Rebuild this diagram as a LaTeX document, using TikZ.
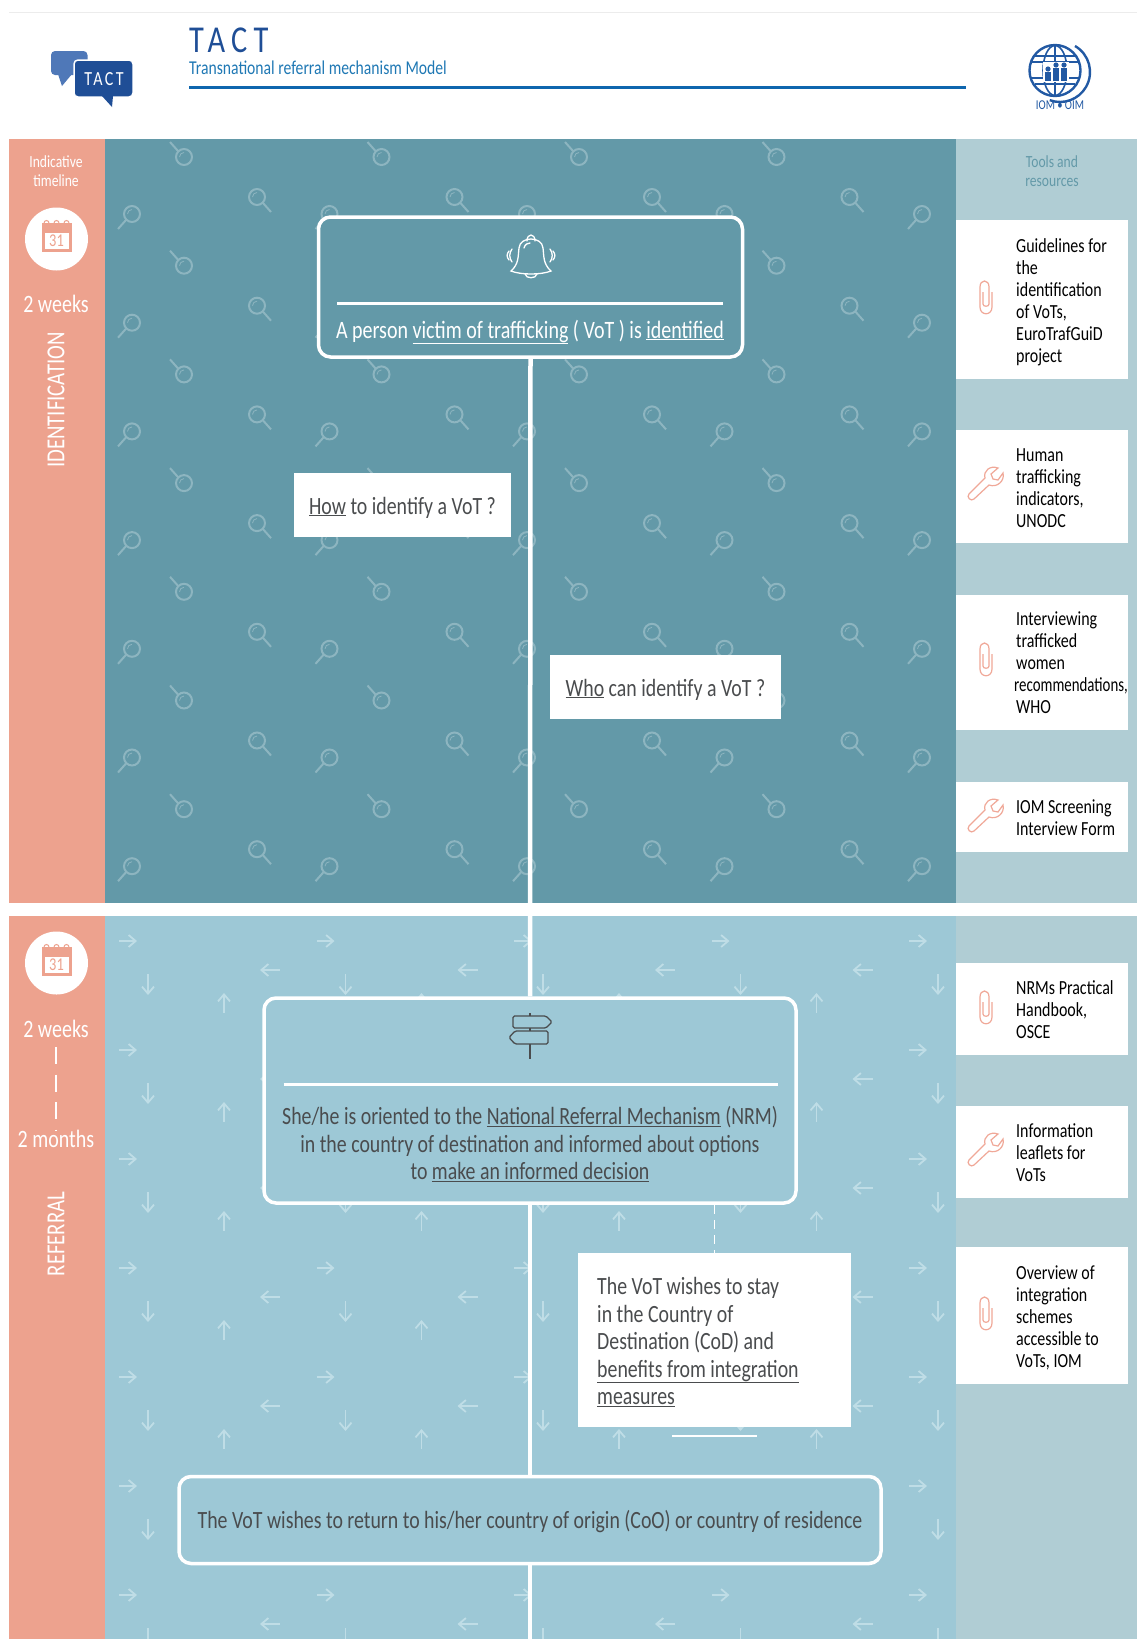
\documentclass[tikz,border=0pt]{standalone}
\usepackage{fontspec}
\setmainfont[FakeStretch=0.8]{Carlito}
\usetikzlibrary{arrows.meta}

\definecolor{salmon}{HTML}{EDA28E}
\definecolor{tealpanel}{HTML}{6399A8}
\definecolor{toolpanel}{HTML}{B0CDD4}
\definecolor{bluepanel}{HTML}{9DC8D6}
\definecolor{lensgrey}{HTML}{8DB5C0}
\definecolor{arrowpale}{HTML}{BFDDE6}
\definecolor{darktext}{HTML}{4A4C4E}
\definecolor{tactblue}{HTML}{1F4E96}
\definecolor{subblue}{HTML}{1F78B4}
\definecolor{rulblue}{HTML}{0F66AE}
\definecolor{bubbleblue}{HTML}{4F78B8}
\definecolor{iomblue}{HTML}{2259A3}
\definecolor{toolorange}{HTML}{F0A898}

\tikzset{
    panelbox/.style={draw=white, line width=3.5pt, rounded corners=12pt, inner sep=0pt},
    whitebox/.style={fill=white, inner sep=0pt},
    bodytext/.style={font=\fontsize{24.8}{27.5}\selectfont, text=darktext, inner sep=0pt},
    tooltext/.style={font=\fontsize{20}{22}\selectfont, text=black, align=left, anchor=west, inner sep=0pt},
    sidetext/.style={font=\fontsize{17}{19}\selectfont, inner sep=0pt, align=center},
    timetext/.style={font=\fontsize{25}{28}\selectfont, text=white, inner sep=0pt},
    phasetext/.style={rotate=90, inner sep=0pt, text=white, font=\fontsize{26}{28}\selectfont},
    flowline/.style={draw=white, line width=4.5pt},
    patarrow/.style={draw=arrowpale, line width=1.8pt, -{Straight Barb[length=7pt,width=12pt]}}
}

% Motifs
\newcommand{\lens}[4]{
    \draw[lensgrey, line width=2pt] (#1,#2) circle (8);
    \draw[lensgrey, line width=2pt] ({#1+#3*6},{#2+#4*6}) -- ({#1+#3*14},{#2+#4*15});
    \draw[lensgrey, line width=0.8pt] ({#1-4.5},#2) arc (180:270:4.5);
}
\newcommand{\calicon}[2]{
    \begin{scope}[shift={(#1,#2)}]
        \fill[white] (0,0) circle (31.5);
        \fill[salmon] (-15,-16) rectangle (15,13);
        \fill[white] (-12,-6) rectangle (12,10);
        \foreach \r in {-10,0,10}
            \draw[salmon, line width=1pt] (\r-2.5,-16) arc (180:360:2.5);
    \end{scope}
}
\newcommand{\paperclip}[2]{
    \draw[toolorange, line width=1.2pt, shift={(#1,#2)}] (6,-5) -- (6,10) .. controls (6,19) and (-6,19) .. (-6,10) -- (-6,-10) .. controls (-6,-18) and (3,-18) .. (3,-10) -- (3,7) .. controls (3,10) and (-3,10) .. (-3,7) -- (-3,-5);
}
\newcommand{\wrench}[2]{
    \draw[toolorange, line width=1.2pt, shift={(#1,#2)}] (-16,12) -- (0,-4) .. controls (-2,-11) and (5,-17) .. (13,-14) -- (6,-8) -- (8,-3) -- (13,-2) -- (18,-9) .. controls (20,-1) and (12,6) .. (4,3) -- (-11,17) .. controls (-14,20) and (-19,15) .. (-16,12) -- cycle;
}

\begin{document}
\begin{tikzpicture}[x=1pt, y=-1pt]
    \useasboundingbox (0,0) rectangle (1137,1639);

    % Panels
    \fill[salmon] (9,139) rectangle (104.5,903);
    \fill[tealpanel] (104.5,139) rectangle (956,903);
    \fill[toolpanel] (956,139) rectangle (1137,903);
    \fill[salmon] (9,916) rectangle (104.5,1639);
    \fill[bluepanel] (104.5,916) rectangle (956,1639);
    \fill[toolpanel] (956,916) rectangle (1137,1639);

    % Magnifiers
    \foreach \j in {0,...,6} {
        \foreach \k in {0,...,3} {
            \lens{184+197.5*\k}{157+108.7*\j}{-1}{-1}
            \lens{257+197.5*\k}{197+108.7*\j}{1}{1}
        }
        \foreach \k in {0,...,4} {
            \lens{132+197.5*\k}{214+108.7*\j}{-1}{1}
        }
    }

    % Arrows
    \begin{scope}
        \clip (104.5,916) rectangle (956,1639);
        \foreach \j in {0,...,6} {
            \foreach \k in {0,...,4} {
                \draw[patarrow] ({119+197.5*\k},{941+109*\j}) -- ({137+197.5*\k},{941+109*\j});
                \draw[patarrow] ({148+197.5*\k},{974+109*\j}) -- ({148+197.5*\k},{995+109*\j});
            }
            \foreach \k in {0,...,3} {
                \draw[patarrow] ({280+197.5*\k},{970+109*\j}) -- ({260+197.5*\k},{970+109*\j});
                \draw[patarrow] ({224+197.5*\k},{1013+109*\j}) -- ({224+197.5*\k},{993+109*\j});
            }
        }
    \end{scope}

    % En-tete
    \draw[gray!15, line width=0.7pt] (9,12.5) -- (1137,12.5);
    \node[anchor=west, inner sep=0pt, text=tactblue, font=\fontsize{38}{42}\selectfont\addfontfeature{LetterSpace=16}] (title) at (189,40) {TACT};
    \node[anchor=west, inner sep=0pt, text=subblue, font=\fontsize{19.6}{24}\selectfont] (subtitle) at (189,68) {Transnational referral mechanism Model};
    \draw[rulblue, line width=3.5pt] (189,87.5) -- (966,87.5);

    % Logo TACT
    \fill[bubbleblue, rounded corners=4pt] (51,51) rectangle (87.5,75);
    \fill[bubbleblue] (58,74) -- (62,86) -- (72,74) -- cycle;
    \fill[tactblue, rounded corners=4pt] (74,60) rectangle (133,97);
    \draw[white, line width=1.5pt, rounded corners=4pt] (74,60) rectangle (133,97);
    \fill[tactblue] (102,96) -- (112,107) -- (113,96) -- cycle;
    \node[text=white, inner sep=0pt, font=\fontsize{20}{22}\selectfont\addfontfeature{LetterSpace=12}] (logotext) at (104,79) {TACT};

    % Logo IOM
    \begin{scope}[iomblue, line width=1.6pt]
        \draw[line width=2.4pt] (1055,70.5) circle (25.5);
        \draw (1055,70.5) ellipse (12 and 25);
        \draw (1031,62) -- (1079,62);
        \draw (1035,56) -- (1075,56);
        \draw (1035,84) -- (1075,84);
        \draw (1031,78) -- (1079,78);
        \draw (1055,46) -- (1055,95);
        \draw[line width=2.4pt] (1075,46) arc (-60:110:30);
        \fill[white] (1043,62) rectangle (1069,82);
        \foreach \f/\h in {1048/12,1056/16,1064/16} {
            \fill (\f,{81-\h}) circle (2.6);
            \fill (\f-3,{83-\h+1}) rectangle (\f+3,81);
        }
    \end{scope}
    \node[text=iomblue, inner sep=0pt, font=\fontsize{13.5}{14}\selectfont] (iomtext) at (1060,105.5) {IOM\,•\,OIM};

    % Colonne gauche
    \node[sidetext, text=white] (timeline) at (56,171) {Indicative\\timeline};
    \calicon{56.5}{239}
    \node[text=salmon, inner sep=0pt, font=\fontsize{18}{20}\selectfont] (caltop) at (56.5,241) {31};
    \node[timetext] (weeksone) at (56,304) {2 weeks};
    \node[phasetext] (identification) at (56,400) {IDENTIFICATION};
    \calicon{56.5}{963}
    \node[text=salmon, inner sep=0pt, font=\fontsize{18}{20}\selectfont] (calbottom) at (56.5,965) {31};
    \node[timetext] (weekstwo) at (56,1029) {2 weeks};
    \node[timetext] (months) at (56,1139) {2 months};
    \draw[white, line width=2pt, dash pattern=on 17pt off 10.5pt] (56,1047) -- (months.north);
    \node[phasetext] (referral) at (56,1234) {REFERRAL};

    % Colonne droite
    \node[sidetext, text=tealpanel] (tools) at (1052,171) {Tools and\\resources};
    \node[whitebox, minimum width=172pt, minimum height=159pt] (toolone) at (1042,299.5) {};
    \node[tooltext] (toolonetext) at (1016,302) {Guidelines for\\the\\identification\\of VoTs,\\EuroTrafGuiD\\project};
    \paperclip{986}{297}
    \node[whitebox, minimum width=172pt, minimum height=113pt] (tooltwo) at (1042,486.5) {};
    \node[tooltext] (tooltwotext) at (1016,488) {Human\\trafficking\\indicators,\\UNODC};
    \wrench{985}{482}
    \node[whitebox, minimum width=172pt, minimum height=135pt] (toolthree) at (1042,662.5) {};
    \node[tooltext] (toolthreetext) at (1016,663) {Interviewing\\trafficked\\women\\\hspace*{-2pt}\scalebox{0.93}[1]{recommendations,}\\WHO};
    \paperclip{986}{659}
    \node[whitebox, minimum width=172pt, minimum height=70pt] (toolfour) at (1042,817) {};
    \node[tooltext] (toolfourtext) at (1016,817.5) {IOM Screening\\Interview Form};
    \wrench{985}{814}
    \node[whitebox, minimum width=172pt, minimum height=92pt] (toolfive) at (1042,1009) {};
    \node[tooltext] (toolfivetext) at (1016,1010) {NRMs Practical\\Handbook,\\OSCE};
    \paperclip{986}{1007}
    \node[whitebox, minimum width=172pt, minimum height=92pt] (toolsix) at (1042,1152) {};
    \node[tooltext] (toolsixtext) at (1016,1153) {Information\\leaflets for\\VoTs};
    \wrench{985}{1148}
    \node[whitebox, minimum width=172pt, minimum height=137pt] (toolseven) at (1042,1315.5) {};
    \node[tooltext] (toolseventext) at (1016,1318) {Overview of\\integration\\schemes\\accessible to\\VoTs, IOM};
    \paperclip{986}{1313}

    % Boites
    \node[panelbox, fill=tealpanel, minimum width=424pt, minimum height=140pt] (person) at (530.5,287) {};
    \draw[white, line width=3pt] (337,303) -- (723,303);
    \node[bodytext, text=white, font=\fontsize{25}{28}\selectfont] (persontext) at (530,332) {A person \underline{victim of trafficking} ( VoT ) is \underline{identified}};
    \node[panelbox, fill=bluepanel, minimum width=532pt, minimum height=205pt] (oriented) at (530,1100.5) {};
    \draw[white, line width=3pt] (283.5,1084) -- (777.5,1084);
    \node[bodytext, align=center] (orientedtext) at (530,1144.5) {She/he is oriented to the \underline{National Referral Mechanism} (NRM)\\in the country of destination and informed about options\\to \underline{make an informed decision}};
    \node[panelbox, fill=bluepanel, minimum width=702pt, minimum height=87pt] (return) at (530,1520) {};
    \node[bodytext] (returntext) at (530,1521.5) {The VoT wishes to return to his/her country of origin (CoO) or country of residence};

    % Liaisons
    \coordinate (bottomend) at (530,1639);
    \draw[flowline] (person.south) -- (oriented.north);
    \draw[flowline] (oriented.south) -- (return.north);
    \draw[flowline] (return.south) -- (bottomend);

    % Questions
    \node[whitebox, minimum width=217pt, minimum height=64pt, bodytext, text height=22pt, text depth=4pt] (how) at (402.5,505) {\underline{How} to identify a VoT ?};
    \node[whitebox, minimum width=231pt, minimum height=64pt, bodytext, text height=22pt, text depth=4pt] (who) at (665.5,687) {\underline{Who} can identify a VoT ?};
    \node[whitebox, minimum width=273pt, minimum height=174pt] (stay) at (714.5,1340) {};
    \node[bodytext, align=left, anchor=west] (staytext) at (597,1342) {The VoT wishes to stay\\in the Country of\\Destination (CoD) and\\\underline{benefits from integration}\\\underline{measures}};

    \draw[white, line width=1.2pt, dash pattern=on 9pt off 6pt] (oriented.south -| stay.north) -- (stay.north);
    \draw[white, line width=2pt] (672,1436) -- (757,1436);

    % Cloche
    \begin{scope}[shift={(531,256)}, white, line width=1.3pt, line cap=round]
        \draw (-20,15) .. controls (-12,8) and (-13,0) .. (-12,-8) .. controls (-11,-20) and (11,-20) .. (12,-8) .. controls (13,0) and (12,8) .. (20,15) .. controls (10,19) and (-10,19) .. (-20,15) -- cycle;
        \draw (-4,-15) .. controls (-4,-23) and (4,-23) .. (4,-15);
        \draw (-6,18) .. controls (-5,23) and (5,23) .. (6,18);
        \draw (-7,-8) .. controls (-6,-12) and (-3,-13) .. (-1,-13);
        \foreach \s in {-1,1} {
            \draw ({\s*19},-7) .. controls ({\s*22},-3) and ({\s*22},2) .. ({\s*19},6);
            \draw ({\s*22},-5) .. controls ({\s*24.5},-2) and ({\s*24.5},1) .. ({\s*22},4);
        }
    \end{scope}

    % Panneau
    \begin{scope}[draw=darktext, line width=1.3pt, line join=round]
        \draw (530,1013) -- (530,1016);
        \draw[rounded corners=1.5pt] (513,1016) -- (546,1016) -- (552,1022) -- (546,1028) -- (513,1028) -- cycle;
        \draw (530,1028) -- (530,1031);
        \draw[rounded corners=1.5pt] (548,1031) -- (515,1031) -- (509,1037.5) -- (515,1044) -- (548,1044) -- cycle;
        \draw (530,1044) -- (530,1059);
    \end{scope}
\end{tikzpicture}
\end{document}
